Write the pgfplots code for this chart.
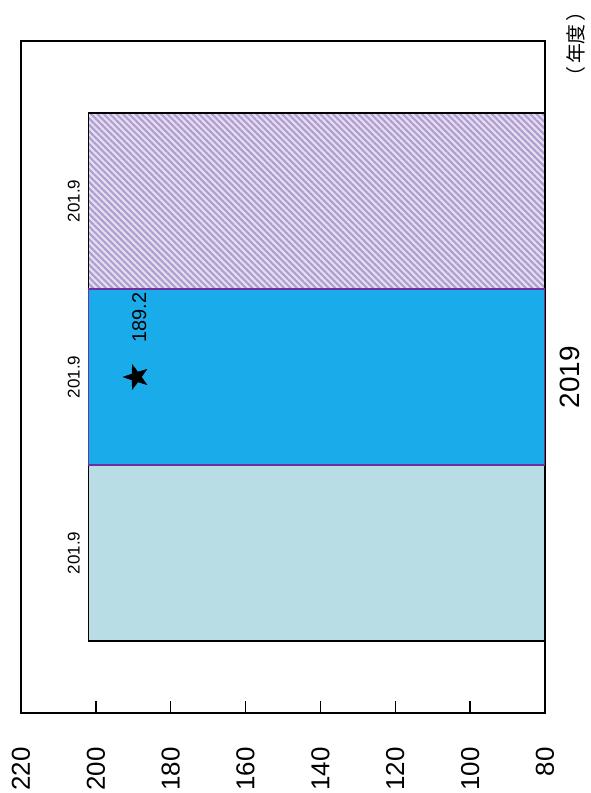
\documentclass[border=0pt]{standalone}
\usepackage{pgfplots}
\pgfplotsset{compat=1.18}
\usetikzlibrary{patterns.meta}
\usepackage{fontspec}
\setmainfont{Liberation Sans}
\newfontfamily\cjk{Noto Sans CJK JP}

\definecolor{barlight}{HTML}{B8DDE5}
\definecolor{barblue}{HTML}{1AABEA}
\definecolor{barpurple}{HTML}{7030A0}
\definecolor{lavbg}{HTML}{E6DEF0}
\definecolor{lavline}{HTML}{AE9DCF}

% filled five-point star, turned to lie like the rest of the chart
\pgfdeclareplotmark{fstar}{%
  \pgfpathmoveto{\pgfpointpolar{180}{\pgfplotmarksize}}%
  \pgfpathlineto{\pgfpointpolar{216}{0.4\pgfplotmarksize}}%
  \pgfpathlineto{\pgfpointpolar{252}{\pgfplotmarksize}}%
  \pgfpathlineto{\pgfpointpolar{288}{0.4\pgfplotmarksize}}%
  \pgfpathlineto{\pgfpointpolar{324}{\pgfplotmarksize}}%
  \pgfpathlineto{\pgfpointpolar{0}{0.4\pgfplotmarksize}}%
  \pgfpathlineto{\pgfpointpolar{36}{\pgfplotmarksize}}%
  \pgfpathlineto{\pgfpointpolar{72}{0.4\pgfplotmarksize}}%
  \pgfpathlineto{\pgfpointpolar{108}{\pgfplotmarksize}}%
  \pgfpathlineto{\pgfpointpolar{144}{0.4\pgfplotmarksize}}%
  \pgfpathclose\pgfusepathqfillstroke}

\begin{document}
\begin{tikzpicture}
\path[use as bounding box] (0,0) rectangle (591bp,793bp);
\begin{axis}[
	at={(21bp,80bp)}, anchor=south west,
	scale only axis, width=524bp, height=672bp,
	x dir=reverse,
	xmin=80, xmax=220, ymin=0, ymax=672,
	enlargelimits=false,
	/pgf/number format/assume math mode=true,
	xtick={80,100,...,220},
	xtick pos=left,
	tick align=inside,
	major tick length=12bp,
	xtick style={line width=1.3bp, black},
	xticklabel style={font=\fontsize{26}{30}\selectfont, yshift=-31bp, rotate=90, anchor=east},
	ytick={336}, yticklabels={2019},
	ytick pos=right, yticklabel pos=right,
	ytick style={draw=none},
	yticklabel style={font=\fontsize{28}{32}\selectfont, xshift=25bp, rotate=90, anchor=center},
	axis line style={line width=1.3bp},
	ylabel={\cjk （\hspace{3bp}年度\hspace{3bp}）},
	every axis y label/.style={at={(rel axis cs:1,1)}, xshift=31bp, yshift=-3bp, rotate=90, anchor=center, font=\fontsize{20}{24}\selectfont},
]
	\addplot[xbar, bar width=176bp, bar shift=-176bp, fill=barlight, draw=black, line width=1.1bp,
		nodes near coords, point meta=x,
		nodes near coords style={font=\fontsize{17}{20}\selectfont, black, xshift=-15bp, yshift=-176bp, rotate=90, anchor=center}]
		coordinates {(201.9,336)};
	\addplot[xbar, bar width=176bp, bar shift=176bp, fill=lavbg, draw=black, line width=1.1bp,
		postaction={pattern={Lines[angle=-45, distance=4.5bp, line width=2.1bp]}, pattern color=lavline},
		nodes near coords, point meta=x,
		nodes near coords style={font=\fontsize{17}{20}\selectfont, black, xshift=-15bp, yshift=176bp, rotate=90, anchor=center}]
		coordinates {(201.9,336)};
	\addplot[xbar, bar width=176bp, bar shift=0bp, fill=barblue, draw=barpurple, line width=1.1bp,
		nodes near coords, point meta=x,
		nodes near coords style={font=\fontsize{17}{20}\selectfont, black, xshift=-15bp, rotate=90, anchor=center}]
		coordinates {(201.9,336)};
	\addplot[only marks, mark=fstar, mark size=13bp, black, fill=black,
		nodes near coords, point meta=x,
		nodes near coords style={font=\fontsize{20}{24}\selectfont, black, xshift=3bp, yshift=31bp, rotate=90, anchor=west}]
		coordinates {(189.2,336)};
\end{axis}
\end{tikzpicture}
\end{document}
